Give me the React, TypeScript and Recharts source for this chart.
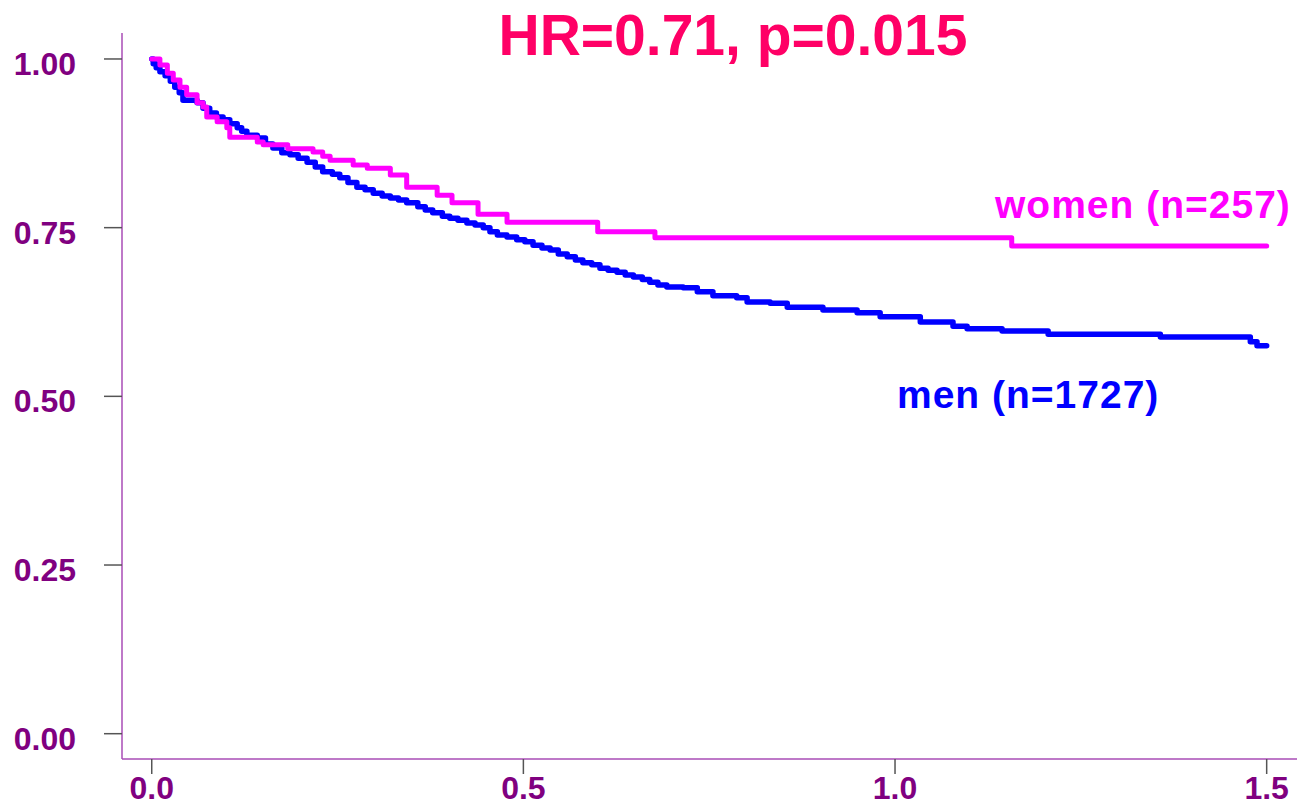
import { LineChart, Line, XAxis, YAxis } from 'recharts'

const xTicks = [0, 0.5, 1, 1.5]
const yTicks = [0, 0.25, 0.5, 0.75, 1]

// men (n=1727), survival
const menTime = [
  0, 0.002, 0.006, 0.011, 0.018, 0.025, 0.031, 0.037, 0.042, 0.061, 0.069, 0.078, 0.087, 0.096,
  0.105, 0.115, 0.121, 0.128, 0.142, 0.153, 0.163, 0.175, 0.186, 0.197, 0.209, 0.22, 0.23, 0.243,
  0.253, 0.264, 0.276, 0.287, 0.298, 0.31, 0.321, 0.332, 0.343, 0.358, 0.368, 0.378, 0.391, 0.401,
  0.412, 0.424, 0.435, 0.446, 0.455, 0.465, 0.478, 0.491, 0.502, 0.513, 0.525, 0.536, 0.547, 0.559,
  0.57, 0.58, 0.592, 0.603, 0.614, 0.626, 0.637, 0.648, 0.66, 0.67, 0.681, 0.693, 0.715, 0.734,
  0.755, 0.787, 0.801, 0.832, 0.855, 0.903, 0.949, 0.98, 1.034, 1.078, 1.097, 1.144, 1.206, 1.357,
  1.478, 1.487, 1.5,
]
const menSurv = [
  1, 0.993, 0.987, 0.981, 0.975, 0.967, 0.958, 0.95, 0.939, 0.935, 0.927, 0.92, 0.914, 0.91,
  0.904, 0.898, 0.893, 0.887, 0.883, 0.874, 0.868, 0.861, 0.858, 0.853, 0.847, 0.84, 0.833, 0.829,
  0.824, 0.817, 0.81, 0.806, 0.801, 0.797, 0.794, 0.791, 0.787, 0.781, 0.776, 0.772, 0.767, 0.764,
  0.761, 0.757, 0.754, 0.75, 0.744, 0.739, 0.736, 0.732, 0.729, 0.724, 0.72, 0.717, 0.711, 0.707,
  0.702, 0.698, 0.695, 0.69, 0.687, 0.684, 0.68, 0.677, 0.673, 0.669, 0.665, 0.662, 0.661, 0.655,
  0.649, 0.646, 0.64, 0.638, 0.632, 0.628, 0.624, 0.618, 0.61, 0.604, 0.6, 0.597, 0.592, 0.588,
  0.581, 0.575, 0.575,
]

// women (n=257)
const womenTime = [
  0, 0.011, 0.021, 0.029, 0.038, 0.047, 0.061, 0.069, 0.074, 0.088, 0.101, 0.105, 0.142, 0.15,
  0.183, 0.217, 0.23, 0.24, 0.271, 0.29, 0.321, 0.343, 0.384, 0.404, 0.439, 0.478, 0.6, 0.677,
  1.157, 1.5,
]
const womenSurv = [
  1, 0.991, 0.979, 0.969, 0.958, 0.947, 0.935, 0.929, 0.914, 0.907, 0.898, 0.884, 0.877, 0.873,
  0.867, 0.862, 0.856, 0.85, 0.843, 0.838, 0.828, 0.81, 0.798, 0.787, 0.77, 0.758, 0.744, 0.735,
  0.723, 0.723,
]

const men = menTime.map((t, i) => ({ t, s: menSurv[i] }))
const women = womenTime.map((t, i) => ({ t, s: womenSurv[i] }))

const font = '"Liberation Sans", Arial, sans-serif'
const tickColor = '#800080'
const axisColor = '#a94cb6'

function YTick(props: any) {
  const { x, y, payload } = props
  return (
    <text x={x} y={y} dy={16} textAnchor="end" fill={tickColor} fontFamily={font} fontSize={32} fontWeight="bold">
      {Number(payload.value).toFixed(2)}
    </text>
  )
}

function XTick(props: any) {
  const { x, y, payload } = props
  return (
    <text x={x} y={y} dy={25} textAnchor="middle" fill={tickColor} fontFamily={font} fontSize={32} fontWeight="bold">
      {Number(payload.value).toFixed(1)}
    </text>
  )
}

export default function App() {
  return (
    <div style={{ position: 'absolute', left: 0, top: 0, width: 1304, height: 806, background: '#fff' }}>
      <LineChart width={1304} height={806} margin={{ top: 33, right: 7, bottom: 0, left: 0 }}>
        <XAxis
          type="number"
          dataKey="t"
          domain={[-0.04, 1.5408]}
          ticks={xTicks}
          allowDataOverflow
          height={47}
          tickSize={15}
          tickMargin={0}
          axisLine={{ stroke: axisColor, strokeWidth: 1.5 }}
          tickLine={{ stroke: '#555', strokeWidth: 1.5 }}
          tick={<XTick />}
        />
        <YAxis
          type="number"
          dataKey="s"
          domain={[-0.0375, 1.0385]}
          ticks={yTicks}
          allowDataOverflow
          width={122}
          tickSize={18}
          tickMargin={28}
          axisLine={{ stroke: axisColor, strokeWidth: 1.5 }}
          tickLine={{ stroke: '#555', strokeWidth: 1.5 }}
          tick={<YTick />}
        />
        <Line
          data={men}
          dataKey="s"
          type="stepAfter"
          stroke="#0000FF"
          strokeWidth={5.5}
          strokeLinecap="round"
          strokeLinejoin="round"
          dot={false}
          activeDot={false}
          isAnimationActive={false}
        />
        <Line
          data={women}
          dataKey="s"
          type="stepAfter"
          stroke="#FF00FF"
          strokeWidth={5}
          strokeLinecap="round"
          strokeLinejoin="round"
          dot={false}
          activeDot={false}
          isAnimationActive={false}
        />
      </LineChart>
      <svg width={1304} height={806} style={{ position: 'absolute', left: 0, top: 0, pointerEvents: 'none' }}>
        <text x={733} y={55} textAnchor="middle" fill="#FF0066" fontFamily={font} fontSize={57} fontWeight="bold">
          HR=0.71, p=0.015
        </text>
        <text x={995} y={218} fill="#FF00FF" fontFamily={font} fontSize={39} fontWeight="bold" letterSpacing={1}>
          women (n=257)
        </text>
        <text x={897} y={408} fill="#0000FF" fontFamily={font} fontSize={39} fontWeight="bold" letterSpacing={1}>
          men (n=1727)
        </text>
      </svg>
    </div>
  )
}
